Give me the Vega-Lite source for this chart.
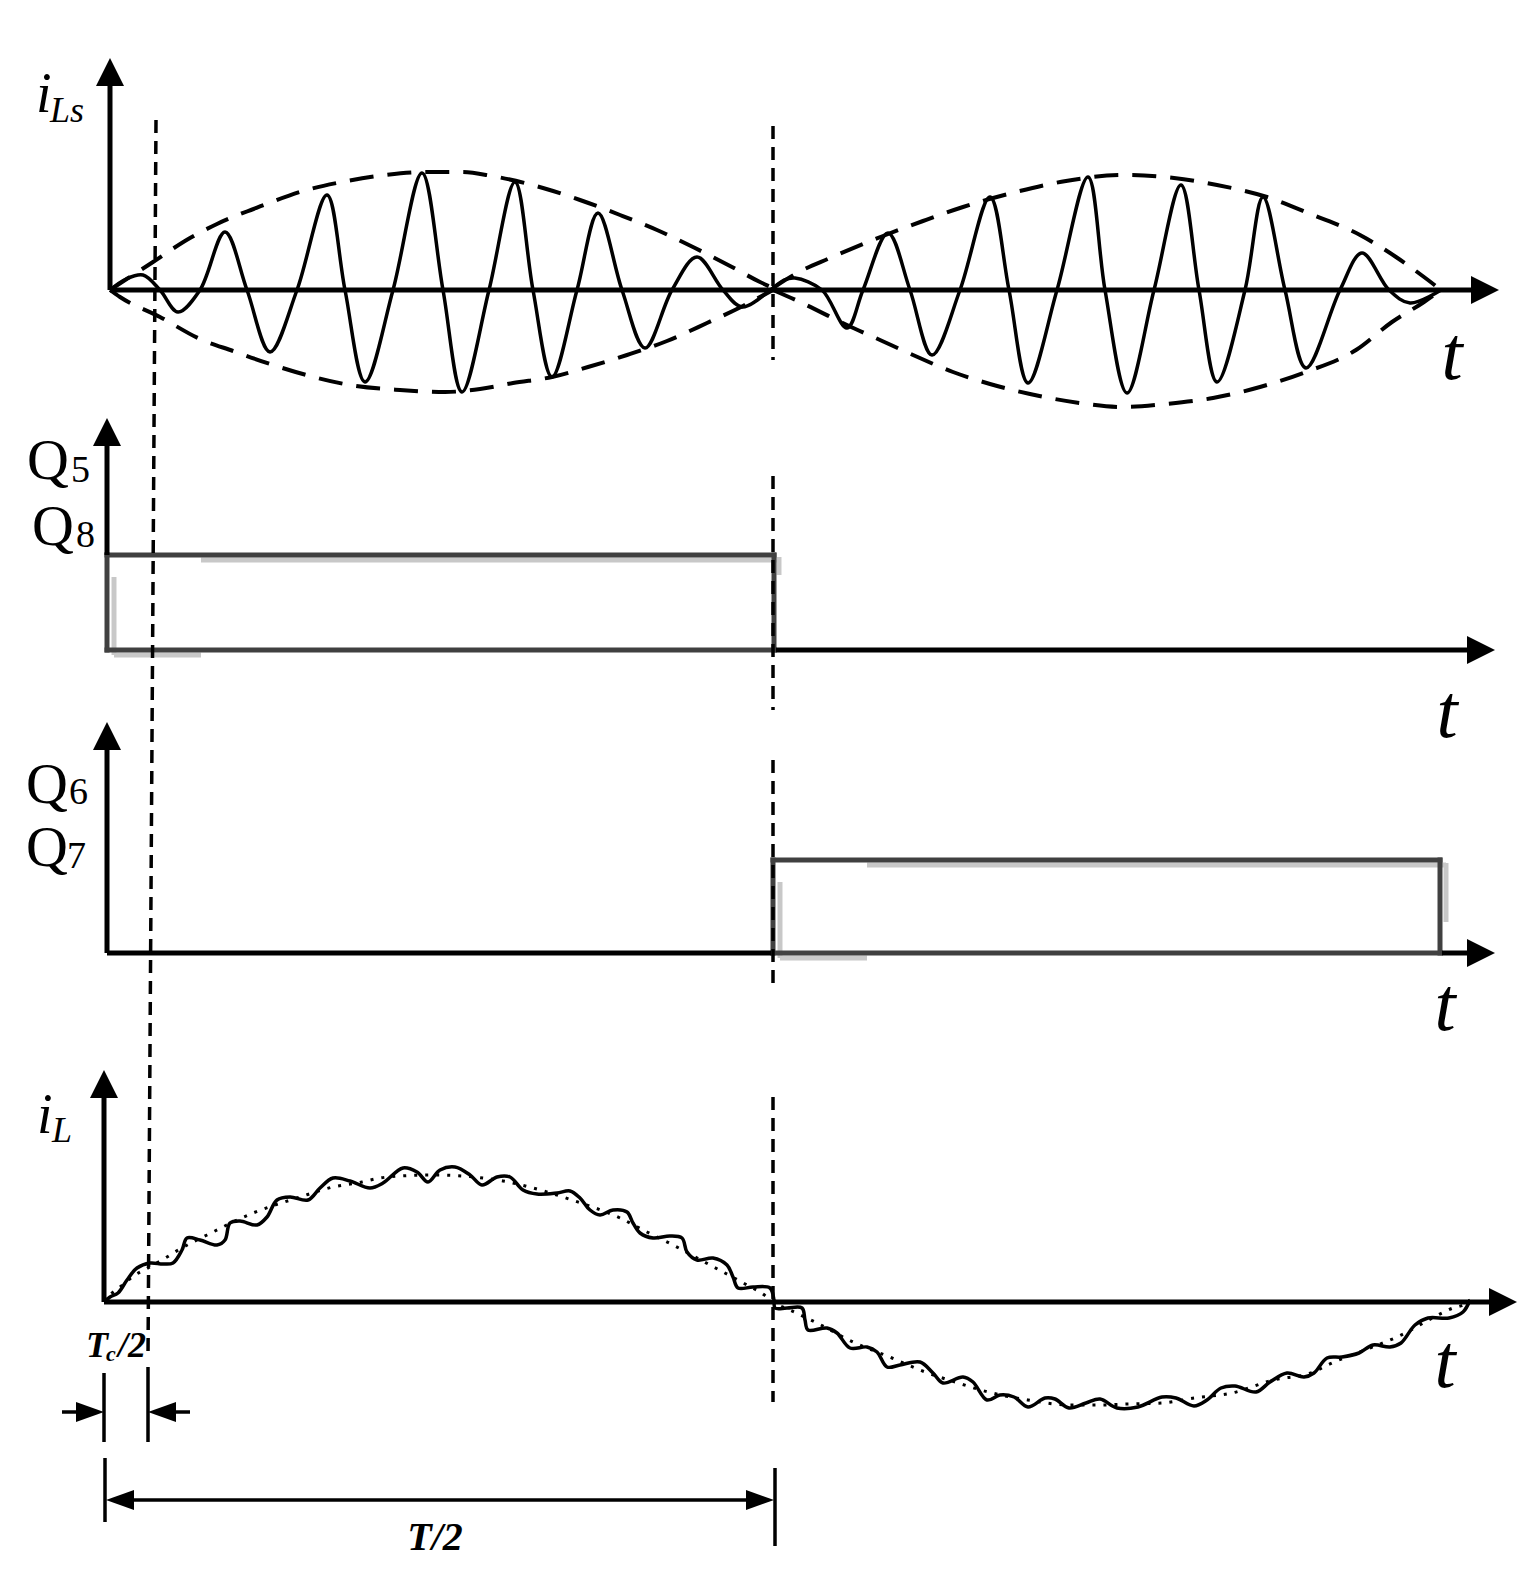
{
  "$schema": "https://vega.github.io/schema/vega-lite/v6.json",
  "width": 1539,
  "height": 1578,
  "autosize": {"type": "fit", "contains": "padding"},
  "padding": 0,
  "background": "white",
  "config": {"view": {"stroke": null}},
  "layer": [
    {
      "data": {"values": [
        {"x": 201, "y": 560, "x2": 779, "y2": 560},
        {"x": 779, "y": 557, "x2": 779, "y2": 575},
        {"x": 114, "y": 577, "x2": 114, "y2": 655},
        {"x": 114, "y": 655, "x2": 201, "y2": 655},
        {"x": 867, "y": 865, "x2": 1446, "y2": 865},
        {"x": 1446, "y": 863, "x2": 1446, "y2": 922},
        {"x": 780, "y": 882, "x2": 780, "y2": 958},
        {"x": 780, "y": 958, "x2": 867, "y2": 958}
      ]},
      "mark": {"type": "rule", "color": "#c8c8c8", "strokeWidth": 5},
      "encoding": {
        "x": {"field": "x", "type": "quantitative", "scale": {"domain": [0, 1539], "nice": false, "zero": false}, "axis": null},
        "y": {"field": "y", "type": "quantitative", "scale": {"domain": [0, 1578], "nice": false, "zero": false, "reverse": true}, "axis": null},
        "x2": {"field": "x2"},
        "y2": {"field": "y2"}
      }
    },
    {
      "data": {"values": [
        {"x": 107, "y": 555, "x2": 774, "y2": 555},
        {"x": 107, "y": 555, "x2": 107, "y2": 650},
        {"x": 774, "y": 555, "x2": 774, "y2": 650},
        {"x": 107, "y": 650, "x2": 774, "y2": 650},
        {"x": 773, "y": 860, "x2": 1440, "y2": 860},
        {"x": 773, "y": 860, "x2": 773, "y2": 953},
        {"x": 1440, "y": 860, "x2": 1440, "y2": 953},
        {"x": 773, "y": 953, "x2": 1440, "y2": 953}
      ]},
      "mark": {"type": "rule", "color": "#404040", "strokeWidth": 5, "strokeCap": "square"},
      "encoding": {
        "x": {"field": "x", "type": "quantitative", "axis": null},
        "y": {"field": "y", "type": "quantitative", "axis": null},
        "x2": {"field": "x2"},
        "y2": {"field": "y2"}
      }
    },
    {
      "data": {"values": [
        {"x": 110, "y": 290, "x2": 110, "y2": 80},
        {"x": 110, "y": 290, "x2": 1480, "y2": 290},
        {"x": 107, "y": 555, "x2": 107, "y2": 440},
        {"x": 776, "y": 650, "x2": 1478, "y2": 650},
        {"x": 107, "y": 953, "x2": 107, "y2": 744},
        {"x": 107, "y": 953, "x2": 771, "y2": 953},
        {"x": 1442, "y": 953, "x2": 1478, "y2": 953},
        {"x": 104, "y": 1302, "x2": 104, "y2": 1092},
        {"x": 104, "y": 1302, "x2": 1500, "y2": 1302}
      ]},
      "mark": {"type": "rule", "color": "black", "strokeWidth": 5},
      "encoding": {
        "x": {"field": "x", "type": "quantitative", "axis": null},
        "y": {"field": "y", "type": "quantitative", "axis": null},
        "x2": {"field": "x2"},
        "y2": {"field": "y2"}
      }
    },
    {
      "data": {"values": [
        {"x": 104, "y": 1373, "x2": 104, "y2": 1442},
        {"x": 148, "y": 1367, "x2": 148, "y2": 1442},
        {"x": 62, "y": 1412, "x2": 98, "y2": 1412},
        {"x": 154, "y": 1412, "x2": 190, "y2": 1412},
        {"x": 105, "y": 1458, "x2": 105, "y2": 1522},
        {"x": 775, "y": 1468, "x2": 775, "y2": 1546},
        {"x": 112, "y": 1500, "x2": 768, "y2": 1500}
      ]},
      "mark": {"type": "rule", "color": "black", "strokeWidth": 3.5},
      "encoding": {
        "x": {"field": "x", "type": "quantitative", "axis": null},
        "y": {"field": "y", "type": "quantitative", "axis": null},
        "x2": {"field": "x2"},
        "y2": {"field": "y2"}
      }
    },
    {
      "data": {"values": [
        {"x": 156, "y": 120, "x2": 148, "y2": 1358},
        {"x": 773, "y": 126, "x2": 773, "y2": 360},
        {"x": 773, "y": 476, "x2": 773, "y2": 710},
        {"x": 773, "y": 760, "x2": 773, "y2": 991},
        {"x": 773, "y": 1097, "x2": 773, "y2": 1402}
      ]},
      "mark": {"type": "rule", "color": "black", "strokeWidth": 3.5, "strokeDash": [13, 8]},
      "encoding": {
        "x": {"field": "x", "type": "quantitative", "axis": null},
        "y": {"field": "y", "type": "quantitative", "axis": null},
        "x2": {"field": "x2"},
        "y2": {"field": "y2"}
      }
    },
    {
      "data": {"values": [
        {"seg": "u1", "t": 110, "v": 290}, {"seg": "u1", "t": 153, "v": 262}, {"seg": "u1", "t": 190, "v": 238}, {"seg": "u1", "t": 217, "v": 224}, {"seg": "u1", "t": 264, "v": 205}, {"seg": "u1", "t": 303, "v": 191}, {"seg": "u1", "t": 347, "v": 181}, {"seg": "u1", "t": 385, "v": 175}, {"seg": "u1", "t": 425, "v": 172}, {"seg": "u1", "t": 462, "v": 172}, {"seg": "u1", "t": 492, "v": 176}, {"seg": "u1", "t": 543, "v": 188}, {"seg": "u1", "t": 580, "v": 200}, {"seg": "u1", "t": 620, "v": 215}, {"seg": "u1", "t": 657, "v": 230}, {"seg": "u1", "t": 695, "v": 248}, {"seg": "u1", "t": 732, "v": 267}, {"seg": "u1", "t": 760, "v": 282}, {"seg": "u1", "t": 773, "v": 288},
        {"seg": "l1", "t": 110, "v": 290}, {"seg": "l1", "t": 120, "v": 297}, {"seg": "l1", "t": 160, "v": 317}, {"seg": "l1", "t": 200, "v": 339}, {"seg": "l1", "t": 233, "v": 351}, {"seg": "l1", "t": 270, "v": 364}, {"seg": "l1", "t": 310, "v": 376}, {"seg": "l1", "t": 350, "v": 385}, {"seg": "l1", "t": 400, "v": 390}, {"seg": "l1", "t": 445, "v": 392}, {"seg": "l1", "t": 480, "v": 389}, {"seg": "l1", "t": 513, "v": 383}, {"seg": "l1", "t": 552, "v": 377}, {"seg": "l1", "t": 588, "v": 367}, {"seg": "l1", "t": 627, "v": 355}, {"seg": "l1", "t": 667, "v": 341}, {"seg": "l1", "t": 707, "v": 323}, {"seg": "l1", "t": 743, "v": 306}, {"seg": "l1", "t": 773, "v": 290},
        {"seg": "u2", "t": 773, "v": 288}, {"seg": "u2", "t": 797, "v": 273}, {"seg": "u2", "t": 830, "v": 258}, {"seg": "u2", "t": 883, "v": 236}, {"seg": "u2", "t": 923, "v": 221}, {"seg": "u2", "t": 963, "v": 207}, {"seg": "u2", "t": 1016, "v": 192}, {"seg": "u2", "t": 1066, "v": 181}, {"seg": "u2", "t": 1123, "v": 175}, {"seg": "u2", "t": 1174, "v": 178}, {"seg": "u2", "t": 1217, "v": 185}, {"seg": "u2", "t": 1267, "v": 197}, {"seg": "u2", "t": 1313, "v": 215}, {"seg": "u2", "t": 1360, "v": 235}, {"seg": "u2", "t": 1396, "v": 257}, {"seg": "u2", "t": 1424, "v": 277}, {"seg": "u2", "t": 1441, "v": 290},
        {"seg": "l2", "t": 773, "v": 290}, {"seg": "l2", "t": 800, "v": 302}, {"seg": "l2", "t": 847, "v": 325}, {"seg": "l2", "t": 880, "v": 340}, {"seg": "l2", "t": 913, "v": 355}, {"seg": "l2", "t": 953, "v": 372}, {"seg": "l2", "t": 990, "v": 384}, {"seg": "l2", "t": 1030, "v": 394}, {"seg": "l2", "t": 1080, "v": 403}, {"seg": "l2", "t": 1123, "v": 407}, {"seg": "l2", "t": 1166, "v": 404}, {"seg": "l2", "t": 1213, "v": 398}, {"seg": "l2", "t": 1260, "v": 387}, {"seg": "l2", "t": 1303, "v": 373}, {"seg": "l2", "t": 1356, "v": 350}, {"seg": "l2", "t": 1392, "v": 322}, {"seg": "l2", "t": 1424, "v": 302}, {"seg": "l2", "t": 1441, "v": 290}
      ]},
      "mark": {"type": "line", "color": "black", "strokeWidth": 4, "strokeDash": [24, 14], "interpolate": "monotone"},
      "encoding": {
        "x": {"field": "t", "type": "quantitative", "axis": null},
        "y": {"field": "v", "type": "quantitative", "axis": null},
        "detail": {"field": "seg"}
      }
    },
    {
      "data": {"values": [
        {"t": 110, "v": 290}, {"t": 126, "v": 279}, {"t": 143, "v": 275}, {"t": 160, "v": 290}, {"t": 178, "v": 312}, {"t": 200, "v": 290}, {"t": 225, "v": 232}, {"t": 247, "v": 290}, {"t": 270, "v": 352}, {"t": 297, "v": 290}, {"t": 327, "v": 195}, {"t": 345, "v": 290}, {"t": 365, "v": 382}, {"t": 393, "v": 290}, {"t": 422, "v": 173}, {"t": 443, "v": 290}, {"t": 462, "v": 392}, {"t": 489, "v": 290}, {"t": 515, "v": 182}, {"t": 533, "v": 290}, {"t": 552, "v": 377}, {"t": 577, "v": 290}, {"t": 598, "v": 213}, {"t": 622, "v": 290}, {"t": 645, "v": 348}, {"t": 672, "v": 290}, {"t": 697, "v": 257}, {"t": 723, "v": 290}, {"t": 742, "v": 307}, {"t": 773, "v": 288},
        {"t": 784, "v": 280}, {"t": 795, "v": 278}, {"t": 822, "v": 290}, {"t": 847, "v": 328}, {"t": 863, "v": 290}, {"t": 888, "v": 233}, {"t": 910, "v": 290}, {"t": 932, "v": 355}, {"t": 960, "v": 290}, {"t": 990, "v": 197}, {"t": 1009, "v": 290}, {"t": 1028, "v": 383}, {"t": 1057, "v": 290}, {"t": 1088, "v": 177}, {"t": 1105, "v": 290}, {"t": 1127, "v": 393}, {"t": 1154, "v": 290}, {"t": 1181, "v": 185}, {"t": 1199, "v": 290}, {"t": 1217, "v": 382}, {"t": 1245, "v": 290}, {"t": 1263, "v": 197}, {"t": 1285, "v": 290}, {"t": 1306, "v": 368}, {"t": 1340, "v": 290}, {"t": 1362, "v": 253}, {"t": 1389, "v": 290}, {"t": 1410, "v": 303}, {"t": 1441, "v": 290}
      ]},
      "mark": {"type": "line", "color": "black", "strokeWidth": 3.5, "interpolate": "catmull-rom"},
      "encoding": {
        "x": {"field": "t", "type": "quantitative", "axis": null},
        "y": {"field": "v", "type": "quantitative", "axis": null}
      }
    },
    {
      "data": {"values": [
        {"t": 104, "v": 1302}, {"t": 110, "v": 1295}, {"t": 120, "v": 1287}, {"t": 135, "v": 1275}, {"t": 148, "v": 1268}, {"t": 162, "v": 1260}, {"t": 180, "v": 1249}, {"t": 207, "v": 1235}, {"t": 253, "v": 1213}, {"t": 300, "v": 1197}, {"t": 333, "v": 1187}, {"t": 362, "v": 1182}, {"t": 380, "v": 1178}, {"t": 400, "v": 1176}, {"t": 432, "v": 1175}, {"t": 462, "v": 1176}, {"t": 483, "v": 1178}, {"t": 503, "v": 1181}, {"t": 533, "v": 1188}, {"t": 572, "v": 1200}, {"t": 620, "v": 1218}, {"t": 647, "v": 1232}, {"t": 673, "v": 1245}, {"t": 710, "v": 1265}, {"t": 747, "v": 1285}, {"t": 763, "v": 1294}, {"t": 773, "v": 1302}, {"t": 790, "v": 1310}, {"t": 817, "v": 1323}, {"t": 853, "v": 1342}, {"t": 892, "v": 1358}, {"t": 920, "v": 1370}, {"t": 958, "v": 1383}, {"t": 988, "v": 1392}, {"t": 1028, "v": 1400}, {"t": 1069, "v": 1405}, {"t": 1100, "v": 1405}, {"t": 1128, "v": 1404}, {"t": 1162, "v": 1403}, {"t": 1194, "v": 1398}, {"t": 1232, "v": 1393}, {"t": 1273, "v": 1380}, {"t": 1311, "v": 1373}, {"t": 1332, "v": 1363}, {"t": 1370, "v": 1348}, {"t": 1397, "v": 1337}, {"t": 1442, "v": 1313}, {"t": 1453, "v": 1308}, {"t": 1463, "v": 1305}, {"t": 1470, "v": 1300}
      ]},
      "mark": {"type": "line", "color": "black", "strokeWidth": 3, "strokeDash": [3, 8], "interpolate": "monotone"},
      "encoding": {
        "x": {"field": "t", "type": "quantitative", "axis": null},
        "y": {"field": "v", "type": "quantitative", "axis": null}
      }
    },
    {
      "data": {"values": [
        {"t": 104, "v": 1302}, {"t": 110, "v": 1297}, {"t": 118, "v": 1293}, {"t": 127, "v": 1280}, {"t": 137, "v": 1268}, {"t": 150, "v": 1263}, {"t": 163, "v": 1264}, {"t": 173, "v": 1263}, {"t": 182, "v": 1250}, {"t": 187, "v": 1238}, {"t": 200, "v": 1240}, {"t": 217, "v": 1245}, {"t": 225, "v": 1240}, {"t": 230, "v": 1223}, {"t": 240, "v": 1221}, {"t": 257, "v": 1225}, {"t": 267, "v": 1217}, {"t": 277, "v": 1200}, {"t": 290, "v": 1197}, {"t": 308, "v": 1200}, {"t": 320, "v": 1188}, {"t": 333, "v": 1178}, {"t": 350, "v": 1181}, {"t": 370, "v": 1188}, {"t": 383, "v": 1183}, {"t": 403, "v": 1168}, {"t": 417, "v": 1172}, {"t": 428, "v": 1182}, {"t": 440, "v": 1170}, {"t": 455, "v": 1167}, {"t": 470, "v": 1175}, {"t": 482, "v": 1185}, {"t": 497, "v": 1177}, {"t": 510, "v": 1177}, {"t": 523, "v": 1190}, {"t": 537, "v": 1194}, {"t": 557, "v": 1193}, {"t": 570, "v": 1191}, {"t": 580, "v": 1198}, {"t": 590, "v": 1210}, {"t": 600, "v": 1215}, {"t": 613, "v": 1210}, {"t": 627, "v": 1212}, {"t": 633, "v": 1223}, {"t": 640, "v": 1233}, {"t": 653, "v": 1238}, {"t": 670, "v": 1236}, {"t": 682, "v": 1238}, {"t": 687, "v": 1252}, {"t": 697, "v": 1260}, {"t": 713, "v": 1258}, {"t": 727, "v": 1265}, {"t": 733, "v": 1277}, {"t": 738, "v": 1288}, {"t": 753, "v": 1287}, {"t": 770, "v": 1288}, {"t": 774, "v": 1300}, {"t": 775, "v": 1308}, {"t": 787, "v": 1308}, {"t": 802, "v": 1308}, {"t": 805, "v": 1320}, {"t": 808, "v": 1330}, {"t": 827, "v": 1328}, {"t": 837, "v": 1333}, {"t": 850, "v": 1348}, {"t": 867, "v": 1347}, {"t": 877, "v": 1352}, {"t": 887, "v": 1367}, {"t": 900, "v": 1365}, {"t": 920, "v": 1362}, {"t": 933, "v": 1373}, {"t": 943, "v": 1383}, {"t": 963, "v": 1377}, {"t": 973, "v": 1382}, {"t": 987, "v": 1400}, {"t": 1000, "v": 1395}, {"t": 1014, "v": 1397}, {"t": 1028, "v": 1407}, {"t": 1045, "v": 1398}, {"t": 1055, "v": 1399}, {"t": 1069, "v": 1408}, {"t": 1086, "v": 1403}, {"t": 1100, "v": 1399}, {"t": 1117, "v": 1408}, {"t": 1138, "v": 1407}, {"t": 1162, "v": 1397}, {"t": 1176, "v": 1398}, {"t": 1194, "v": 1406}, {"t": 1207, "v": 1400}, {"t": 1221, "v": 1388}, {"t": 1235, "v": 1386}, {"t": 1256, "v": 1392}, {"t": 1270, "v": 1382}, {"t": 1287, "v": 1373}, {"t": 1304, "v": 1377}, {"t": 1314, "v": 1373}, {"t": 1327, "v": 1358}, {"t": 1342, "v": 1357}, {"t": 1359, "v": 1353}, {"t": 1373, "v": 1345}, {"t": 1390, "v": 1347}, {"t": 1401, "v": 1343}, {"t": 1415, "v": 1325}, {"t": 1428, "v": 1318}, {"t": 1449, "v": 1318}, {"t": 1463, "v": 1312}, {"t": 1470, "v": 1300}
      ]},
      "mark": {"type": "line", "color": "black", "strokeWidth": 3.5, "interpolate": "catmull-rom"},
      "encoding": {
        "x": {"field": "t", "type": "quantitative", "axis": null},
        "y": {"field": "v", "type": "quantitative", "axis": null}
      }
    },
    {
      "data": {"values": [
        {"t": 110, "v": 58, "dir": "up"},
        {"t": 107, "v": 418, "dir": "up"},
        {"t": 107, "v": 722, "dir": "up"},
        {"t": 104, "v": 1070, "dir": "up"},
        {"t": 1499, "v": 290, "dir": "right"},
        {"t": 1495, "v": 650, "dir": "right"},
        {"t": 1495, "v": 953, "dir": "right"},
        {"t": 1517, "v": 1302, "dir": "right"},
        {"t": 104, "v": 1412, "dir": "sright"},
        {"t": 148, "v": 1412, "dir": "sleft"},
        {"t": 106, "v": 1500, "dir": "sleft"},
        {"t": 774, "v": 1500, "dir": "sright"}
      ]},
      "mark": {"type": "point", "filled": true, "opacity": 1, "color": "black", "strokeWidth": 0, "size": 784},
      "encoding": {
        "x": {"field": "t", "type": "quantitative", "axis": null},
        "y": {"field": "v", "type": "quantitative", "axis": null},
        "shape": {"field": "dir", "type": "nominal", "legend": null,
          "scale": {"domain": ["up", "right", "sright", "sleft"],
                    "range": ["M0,0L-1,2L1,2Z", "M0,0L-2,-1L-2,1Z", "M0,0L-2,-0.72L-2,0.72Z", "M0,0L2,-0.72L2,0.72Z"]}}
      }
    },
    {
      "data": {"values": [
        {"t": 36, "v": 112, "label": "i"},
        {"t": 37, "v": 1133, "label": "i"}
      ]},
      "mark": {"type": "text", "font": "Liberation Serif", "fontStyle": "italic", "fontSize": 56, "align": "left", "baseline": "alphabetic", "color": "black"},
      "encoding": {
        "x": {"field": "t", "type": "quantitative", "axis": null},
        "y": {"field": "v", "type": "quantitative", "axis": null},
        "text": {"field": "label"}
      }
    },
    {
      "data": {"values": [
        {"t": 50, "v": 122, "label": "Ls"},
        {"t": 52, "v": 1142, "label": "L"}
      ]},
      "mark": {"type": "text", "font": "Liberation Serif", "fontStyle": "italic", "fontSize": 36, "align": "left", "baseline": "alphabetic", "color": "black"},
      "encoding": {
        "x": {"field": "t", "type": "quantitative", "axis": null},
        "y": {"field": "v", "type": "quantitative", "axis": null},
        "text": {"field": "label"}
      }
    },
    {
      "data": {"values": [
        {"t": 1452, "v": 379, "label": "t"},
        {"t": 1447, "v": 737, "label": "t"},
        {"t": 1445, "v": 1030, "label": "t"},
        {"t": 1445, "v": 1387, "label": "t"}
      ]},
      "mark": {"type": "text", "font": "Liberation Serif", "fontStyle": "italic", "fontSize": 76, "align": "center", "baseline": "alphabetic", "color": "black"},
      "encoding": {
        "x": {"field": "t", "type": "quantitative", "axis": null},
        "y": {"field": "v", "type": "quantitative", "axis": null},
        "text": {"field": "label"}
      }
    },
    {
      "data": {"values": [
        {"t": 27, "v": 479, "label": "Q"},
        {"t": 32, "v": 545, "label": "Q"},
        {"t": 26, "v": 803, "label": "Q"},
        {"t": 26, "v": 866, "label": "Q"}
      ]},
      "mark": {"type": "text", "font": "Liberation Serif", "fontSize": 58, "align": "left", "baseline": "alphabetic", "color": "black"},
      "encoding": {
        "x": {"field": "t", "type": "quantitative", "axis": null},
        "y": {"field": "v", "type": "quantitative", "axis": null},
        "text": {"field": "label"}
      }
    },
    {
      "data": {"values": [
        {"t": 71, "v": 482, "label": "5"},
        {"t": 76, "v": 547, "label": "8"},
        {"t": 69, "v": 804, "label": "6"},
        {"t": 67, "v": 868, "label": "7"}
      ]},
      "mark": {"type": "text", "font": "Liberation Serif", "fontSize": 38, "align": "left", "baseline": "alphabetic", "color": "black"},
      "encoding": {
        "x": {"field": "t", "type": "quantitative", "axis": null},
        "y": {"field": "v", "type": "quantitative", "axis": null},
        "text": {"field": "label"}
      }
    },
    {
      "data": {"values": [
        {"t": 86, "v": 1357, "label": "T"},
        {"t": 118, "v": 1357, "label": "/2"}
      ]},
      "mark": {"type": "text", "font": "Liberation Serif", "fontStyle": "italic", "fontWeight": "bold", "fontSize": 36, "align": "left", "baseline": "alphabetic", "color": "black"},
      "encoding": {
        "x": {"field": "t", "type": "quantitative", "axis": null},
        "y": {"field": "v", "type": "quantitative", "axis": null},
        "text": {"field": "label"}
      }
    },
    {
      "data": {"values": [
        {"t": 106, "v": 1361, "label": "c"}
      ]},
      "mark": {"type": "text", "font": "Liberation Serif", "fontStyle": "italic", "fontWeight": "bold", "fontSize": 22, "align": "left", "baseline": "alphabetic", "color": "black"},
      "encoding": {
        "x": {"field": "t", "type": "quantitative", "axis": null},
        "y": {"field": "v", "type": "quantitative", "axis": null},
        "text": {"field": "label"}
      }
    },
    {
      "data": {"values": [
        {"t": 435, "v": 1550, "label": "T/2"}
      ]},
      "mark": {"type": "text", "font": "Liberation Serif", "fontStyle": "italic", "fontWeight": "bold", "fontSize": 40, "align": "center", "baseline": "alphabetic", "color": "black"},
      "encoding": {
        "x": {"field": "t", "type": "quantitative", "axis": null},
        "y": {"field": "v", "type": "quantitative", "axis": null},
        "text": {"field": "label"}
      }
    }
  ]
}
